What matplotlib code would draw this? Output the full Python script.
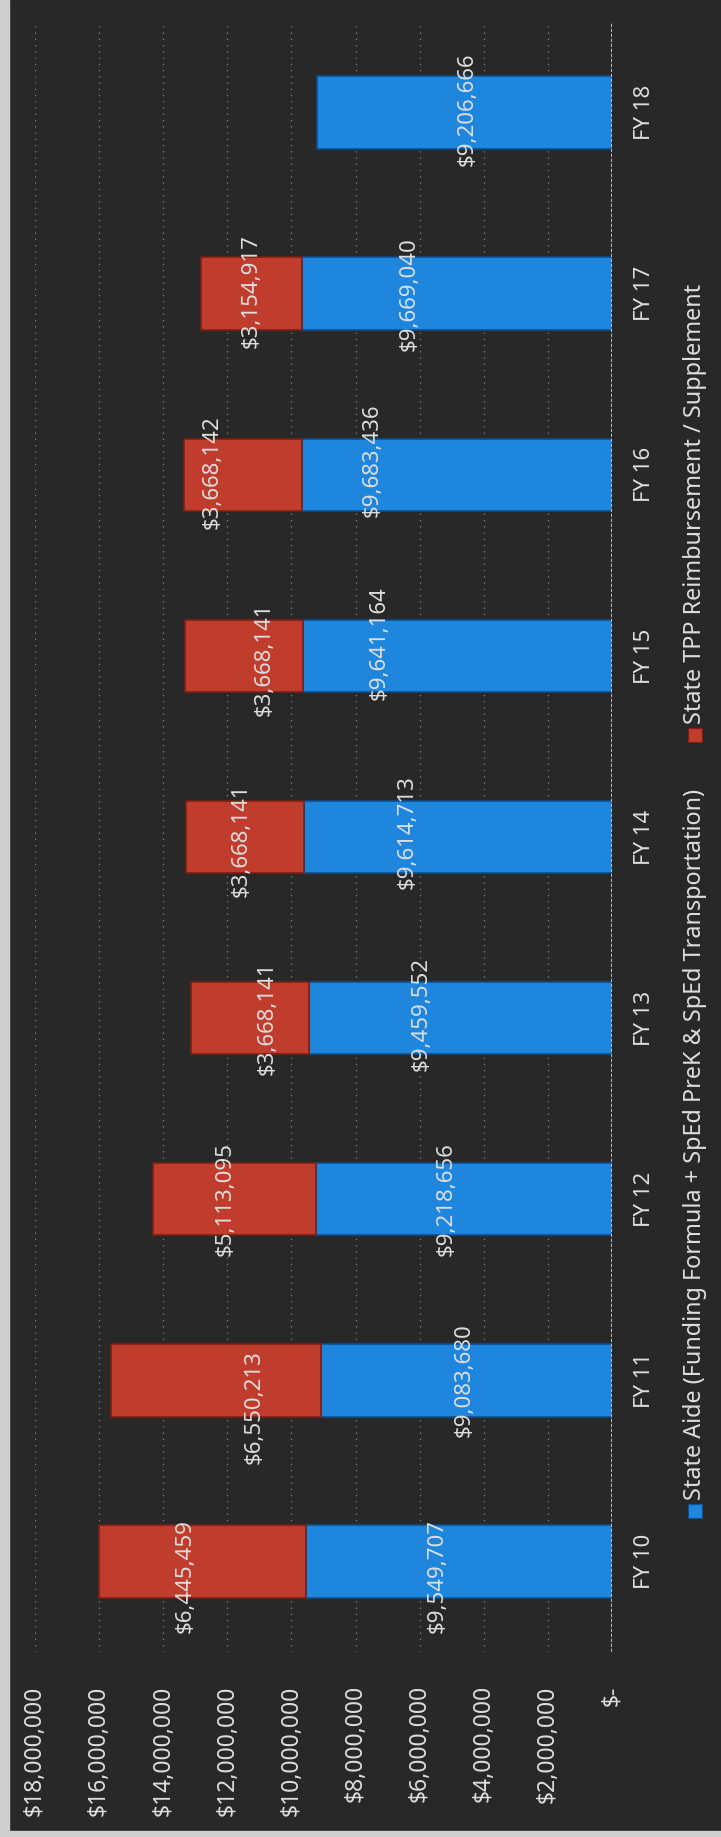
import numpy as np
import matplotlib
matplotlib.use("Agg")
import matplotlib.pyplot as plt
from matplotlib.patches import Rectangle

# ---------------- data ----------------
categories = ["FY 10", "FY 11", "FY 12", "FY 13", "FY 14", "FY 15", "FY 16", "FY 17", "FY 18"]
state_aide = [9549707, 9083680, 9218656, 9459552, 9614713, 9641164, 9683436, 9669040, 9206666]
state_tpp = [6445459, 6550213, 5113095, 3668141, 3668141, 3668141, 3668142, 3154917, 0]
aide_labels = ["$9,549,707", "$9,083,680", "$9,218,656", "$9,459,552", "$9,614,713",
               "$9,641,164", "$9,683,436", "$9,669,040", "$9,206,666"]
tpp_labels = ["$6,445,459", "$6,550,213", "$5,113,095", "$3,668,141", "$3,668,141",
              "$3,668,141", "$3,668,142", "$3,154,917", ""]
value_ticks = [0, 2000000, 4000000, 6000000, 8000000, 10000000, 12000000, 14000000,
               16000000, 18000000]
value_tick_labels = ["$-", "$2,000,000", "$4,000,000", "$6,000,000", "$8,000,000",
                     "$10,000,000", "$12,000,000", "$14,000,000", "$16,000,000",
                     "$18,000,000"]
legend_names = ["State Aide (Funding Formula + SpEd PreK & SpEd Transportation)",
                "State TPP Reimbursement / Supplement"]

# label nudges (pixels, image x right / image y down) as placed in the original
aide_dx = [-22, -2, -18, -39, -51, -78, -85, -48, 3]
aide_dy = [15, 0, 0, -4, -5, -13, -15, 0, -3]
tpp_dx = [-17, 38, -9, 17, -4, 20, -31, 0, 0]
tpp_dy = [15, 27, 0, 0, 3, 3, -3, -3, 0]

# ---------------- style ----------------
BG = "#282828"
BLUE = "#1f86de"
BLUE_EDGE = "#0d4f90"
RED = "#c03c2c"
RED_EDGE = "#7a2014"
TXT = "#dedede"
FONT = ["Noto Sans", "DejaVu Sans"]
plt.rcParams["font.family"] = FONT

W, H = 721, 1837
fig = plt.figure(figsize=(W / 100, H / 100), dpi=100, facecolor=BG)

# light scan borders
fig.add_artist(Rectangle((0, 0), 9 / W, 1, transform=fig.transFigure, color="#cfcfcf", zorder=0))
fig.add_artist(Rectangle((0, 0), 1, 6 / H, transform=fig.transFigure, color="#cfcfcf", zorder=0))

ax_left, ax_right = 35, 612
ax_top, ax_bottom = 22, 1652
ax = fig.add_axes([ax_left / W, (H - ax_bottom) / H, (ax_right - ax_left) / W, (ax_bottom - ax_top) / H])
ax.set_facecolor(BG)

y = np.arange(len(categories))
aide = np.array(state_aide, dtype=float)
tpp = np.array(state_tpp, dtype=float)
bh = 0.40

ax.barh(y, aide, height=bh, color=BLUE, edgecolor=BLUE_EDGE, linewidth=1.2, zorder=3)
mask = tpp > 0
ax.barh(y[mask], tpp[mask], left=aide[mask], height=bh, color=RED,
        edgecolor=RED_EDGE, linewidth=1.2, zorder=3)

ax.set_xlim(18000000, 0)
ax.set_ylim(-0.5, len(categories) - 0.5)

# gridlines
for v in value_ticks[1:]:
    ax.axvline(v, color="#858585", lw=0.9, ls=(0, (1, 4)), zorder=1)
ax.axvline(0, color="#d8d8d8", lw=1.2, ls=(0, (2, 1)), zorder=4)

# value labels
for i in range(len(categories)):
    ax.annotate(aide_labels[i], (aide[i] / 2, y[i]), xytext=(aide_dx[i], -aide_dy[i]),
                textcoords="offset pixels", rotation=90, ha="center", va="center",
                color=TXT, fontsize=16, zorder=5)
    if tpp[i] > 0:
        ax.annotate(tpp_labels[i], (aide[i] + tpp[i] / 2, y[i]), xytext=(tpp_dx[i], -tpp_dy[i]),
                    textcoords="offset pixels", rotation=90, ha="center", va="center",
                    color=TXT, fontsize=16, zorder=5)

for s in ax.spines.values():
    s.set_visible(False)

ax.set_xticks(value_ticks)
ax.set_xticklabels(value_tick_labels, rotation=90, fontsize=16.5, color=TXT)
ax.tick_params(axis="x", length=0, pad=24)

ax.yaxis.tick_right()
ax.set_yticks(y)
ax.set_yticklabels(categories, rotation=90, fontsize=16, color=TXT, va="center")
ax.tick_params(axis="y", length=0, pad=16)

# legend (rotated, drawn on figure)
leg_x = 695
entries = [(BLUE, BLUE_EDGE, 1518, legend_names[0]), (RED, RED_EDGE, 742, legend_names[1])]
for col, ecol, ybot, name in entries:
    fig.add_artist(Rectangle(((leg_x - 7) / W, (H - ybot) / H), 14 / W, 14 / H,
                             transform=fig.transFigure, facecolor=col, edgecolor=ecol, lw=0.8))
    fig.text(leg_x / W, (H - (ybot - 18)) / H, name, rotation=90, rotation_mode="anchor",
             ha="left", va="center", color=TXT, fontsize=16.8)

fig.savefig("out.png", dpi=100, facecolor=BG)
